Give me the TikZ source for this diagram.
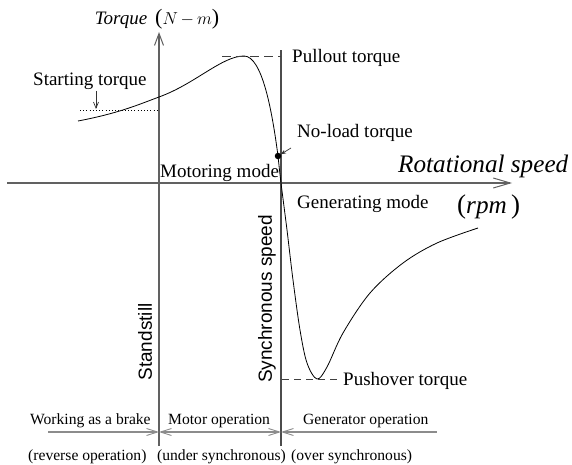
\documentclass[tikz,border=0pt]{standalone}
\usepackage{fontspec}
\setmainfont{Liberation Serif}
\setsansfont{Liberation Sans}
\usetikzlibrary{arrows.meta}
\begin{document}
\begin{tikzpicture}[x=1pt,y=-1pt,
  axis/.style={draw=black!62, line width=1.3pt},
  sync/.style={draw=black!70, line width=1.1pt},
  curve/.style={draw=black, line width=0.8pt},
  level/.style={draw=black!75, line width=0.9pt, dash pattern=on 9pt off 5pt},
  region/.style={draw=black!45, line width=1.3pt},
  rtip/.style={-{Straight Barb[length=11pt,width=7pt,line width=0.9pt]}},
  ltip/.style={{Straight Barb[length=11pt,width=7pt,line width=0.9pt]}-},
  btip/.style={{Straight Barb[length=11pt,width=7pt,line width=0.9pt]}-{Straight Barb[length=11pt,width=7pt,line width=0.9pt]}},
  lbl/.style={inner sep=0pt, anchor=base west, font=\fontsize{19}{22}\selectfont},
  small/.style={inner sep=0pt, anchor=base west, font=\fontsize{15.6}{18}\selectfont},
  vlbl/.style={inner sep=0pt, rotate=90, font=\sffamily\fontsize{19}{22}\selectfont},
  big/.style={inner sep=0pt, anchor=base west, font=\itshape\fontsize{25.2}{28}\selectfont}
]
\useasboundingbox (0,0) rectangle (572,465);

% key points
\coordinate (xL) at (7,183);
\coordinate (xR) at (512,183);
\coordinate (yB) at (159,446);
\coordinate (yT) at (159,32);
\coordinate (sB) at (281,446);
\coordinate (sT) at (281,50);

% axes
\draw[axis, -{Straight Barb[length=17pt,width=10pt,line width=1pt]}] (xL) -- (xR);
\draw[axis, -{Straight Barb[length=12pt,width=9pt,line width=1pt]}] (yB) -- (yT);
\draw[sync] (sB) -- (sT);

% torque-speed characteristic: motoring branch up to the no-load point
\draw[curve] (78,121) .. controls (120,113) and (140,104) .. (159,97)
  .. controls (195,84) and (222,56) .. (244,56)
  .. controls (262,56) and (272,110) .. (278,156);
% generating branch
\draw[curve] plot[smooth, tension=0.55] coordinates {
  (278,156) (281,183) (287,230)
  (293,280) (300,330) (307,363) (317,379) (327,367) (343,333) (370,293)
  (403,263) (437,243) (478,228)};

% pullout and pushover levels
\coordinate (poA) at (222,56);
\coordinate (poB) at (281,56);
\draw[level] (poA) -- (poB);
\coordinate (phA) at (282,379);
\coordinate (phB) at (339,379);
\draw[level, dash pattern=on 7pt off 5pt] (phA) -- (phB);

% starting torque level
\coordinate (stA) at (80,110);
\coordinate (stB) at (159,110);
\draw[black, line width=0.9pt, dash pattern=on 1pt off 2.2pt] (stA) -- (stB);

% no-load point
\node[circle, fill=black, inner sep=0pt, minimum size=6.5pt] (dot) at (278,156) {};

% labels
\node[inner sep=0pt, anchor=base] (tq) at (157,25)
  {\fontsize{19}{22}\selectfont\itshape Torque\, {\fontsize{22}{24}\selectfont\upshape(}$N\,{-}\,m${\fontsize{22}{24}\selectfont\upshape)}};
\node[lbl] (start) at (33,86) {Starting torque};
\node[lbl] (pull) at (292,63) {Pullout torque};
\node[lbl] (noload) at (297,138) {No-load torque};
\node[lbl] (motm) at (160,177) {Motoring mode};
\node[big] (rot) at (398,172) {Rotational speed};
\node[lbl] (genm) at (297,208) {Generating mode};
\node[inner sep=0pt, anchor=base west] (rpm) at (457,213)
  {{\fontsize{27}{30}\selectfont(}{\itshape\fontsize{25.2}{28}\selectfont rpm\,}{\fontsize{27}{30}\selectfont)}};
\node[vlbl] (stand) at (145,342) {Standstill};
\node[vlbl] (syncl) at (267,299) {Synchronous speed};
\node[lbl] (push) at (343,385) {Pushover torque};

% pointers
\coordinate (stT) at (96,91);
\coordinate (stH) at (96,109);
\draw[black!80, line width=0.7pt, -{Straight Barb[length=6pt,width=5pt,line width=0.7pt]}] (stT) -- (stH);
\coordinate (nlT) at (291,148);
\draw[black!80, line width=0.7pt, -{Stealth[length=5pt,width=4pt]}] (nlT) -- (dot);

% operating regions
\coordinate (rA) at (48,432);
\coordinate (rB) at (159,432);
\coordinate (rC) at (281,432);
\coordinate (rD) at (437,432);
\draw[region, rtip] (rA) -- (rB);
\draw[region, btip] (rB) -- (rC);
\draw[region, ltip] (rC) -- (rD);

\node[small] (brake) at (30,424) {Working as a brake};
\node[small] (motop) at (168,424) {Motor operation};
\node[small] (genop) at (303,424) {Generator operation};
\node[small] (rev) at (28,460) {(reverse operation)};
\node[small] (under) at (157,460) {(under synchronous)};
\node[small] (over) at (291,460) {(over synchronous)};
\end{tikzpicture}
\end{document}
